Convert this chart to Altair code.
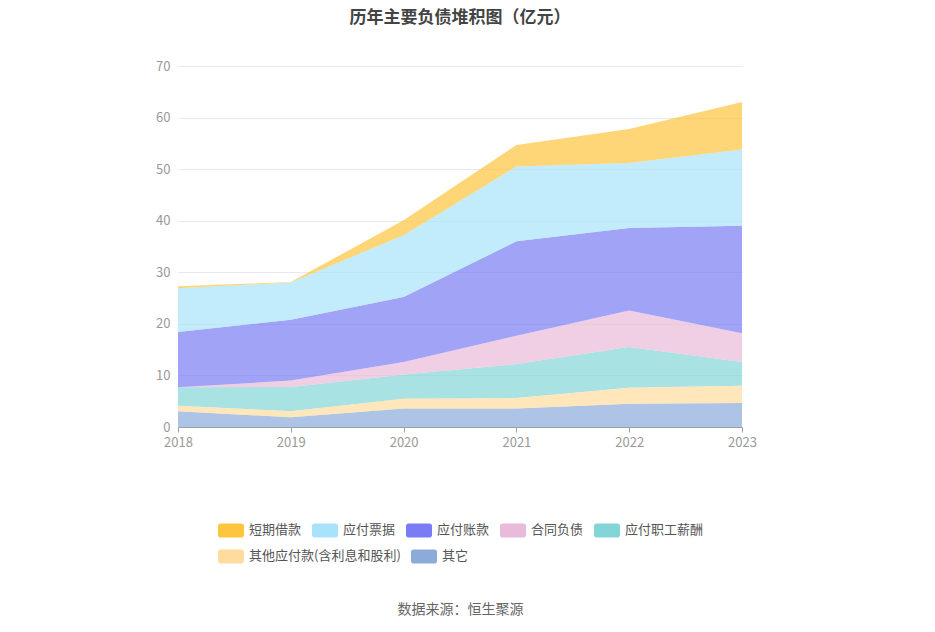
import altair as alt
import pandas as pd

years = ["2018", "2019", "2020", "2021", "2022", "2023"]
series = ["短期借款", "应付票据", "应付账款", "合同负债", "应付职工薪酬", "其他应付款(含利息和股利)", "其它"]
colors = ["#FFC53D", "#A8E2FB", "#797CF4", "#E9BADA", "#84D5D7", "#FFDB9E", "#8CABDB"]

short_loan = [0.4, 0.1, 2.9, 4.2, 6.6, 9.2]
notes_pay = [8.5, 7.2, 12.0, 14.5, 12.6, 14.8]
accounts_pay = [10.7, 11.8, 12.6, 18.3, 16.0, 20.8]
contract_liab = [0.0, 1.24, 2.4, 5.5, 7.1, 5.6]
staff_pay = [3.56, 4.72, 4.7, 6.6, 7.9, 4.6]
other_pay = [1.1, 1.16, 1.9, 2.0, 3.1, 3.34]
others = [3.04, 1.88, 3.6, 3.6, 4.5, 4.66]

values = [short_loan, notes_pay, accounts_pay, contract_liab, staff_pay, other_pay, others]

# stack from the bottom (其它) upward
rows = []
for j, y in enumerate(years):
    base = 0.0
    for name, vals in reversed(list(zip(series, values))):
        rows.append({"year": y, "series": name, "value": vals[j], "lo": base, "hi": base + vals[j]})
        base += vals[j]
df = pd.DataFrame(rows)

rounded = ("M-0.8,-0.54 H0.8 A0.2,0.2 0 0 1 1,-0.34 V0.34 A0.2,0.2 0 0 1 0.8,0.54 "
           "H-0.8 A0.2,0.2 0 0 1 -1,0.34 V-0.34 A0.2,0.2 0 0 1 -0.8,-0.54 Z")

font = "Noto Sans CJK SC"

x_enc = alt.X("year:O", scale=alt.Scale(type="point", padding=0),
              axis=alt.Axis(title="数据来源：恒生聚源", titlePadding=153, titleFontSize=14,
                            titleColor="#666666", titleFontWeight="normal", titleFont=font,
                            labelAngle=0, labelColor="#999999", labelFontSize=13, labelFont=font,
                            domainColor="#9aa0ab", tickColor="#9aa0ab", tickSize=5,
                            labelPadding=4, grid=False))
y_enc = alt.Y("lo:Q", scale=alt.Scale(domain=[0, 70]),
              axis=alt.Axis(title=None, values=[0, 10, 20, 30, 40, 50, 60, 70],
                            labelColor="#999999", labelFontSize=13, labelFont=font,
                            domain=False, ticks=False, labelPadding=8,
                            gridColor="#E6E9F2"))


def legend(y_off):
    return alt.Legend(title=None, orient="none", legendX=40, legendY=y_off,
                      direction="horizontal", symbolType=rounded, symbolSize=676,
                      symbolOpacity=1, symbolStrokeWidth=0, labelFontSize=13,
                      labelColor="#555555", labelFont=font, labelOffset=5,
                      columnPadding=10, padding=0)


top_series = series[:5]
bottom_series = series[5:]

layer_a = alt.Chart(df).transform_filter(
    alt.FieldOneOfPredicate(field="series", oneOf=top_series)
).mark_area(opacity=0.7).encode(
    x=x_enc, y=y_enc, y2="hi:Q",
    color=alt.Color("series:N", scale=alt.Scale(domain=top_series, range=colors[:5]),
                    legend=legend(451)),
)

layer_b = alt.Chart(df).transform_filter(
    alt.FieldOneOfPredicate(field="series", oneOf=bottom_series)
).mark_area(opacity=0.7).encode(
    x=x_enc, y=y_enc, y2="hi:Q",
    color=alt.Color("series:N", scale=alt.Scale(domain=bottom_series, range=colors[5:]),
                    legend=legend(477)),
)

chart = alt.layer(layer_a, layer_b).resolve_scale(color="independent").properties(
    width=564, height=361,
    autosize=alt.AutoSizeParams(type="none"),
    padding={"left": 170, "top": 58, "right": 185, "bottom": 197},
    title=alt.TitleParams("历年主要负债堆积图（亿元）", fontSize=17, fontWeight="bold",
                          color="#444444", font=font, anchor="middle", offset=33),
).configure_view(stroke=None)

chart.save("out.html", embed_options={"renderer": "svg", "actions": False})
